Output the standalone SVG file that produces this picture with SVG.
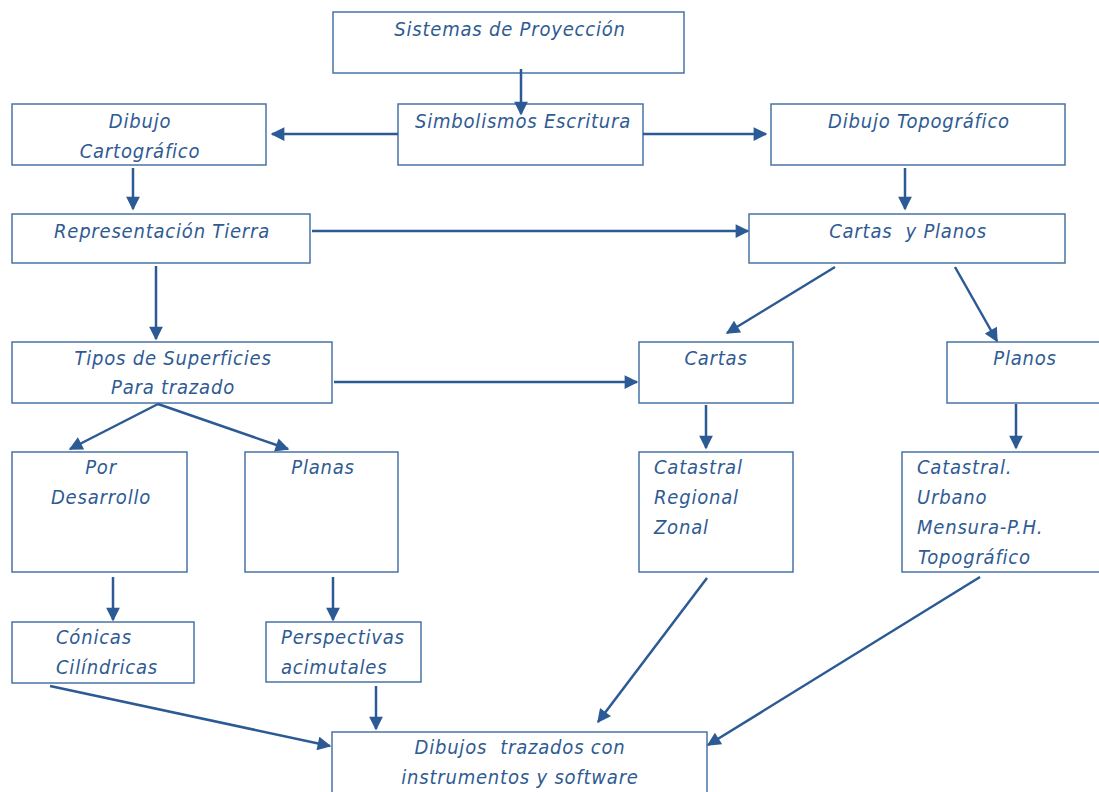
<svg xmlns="http://www.w3.org/2000/svg" width="1099" height="792" viewBox="0 0 1099 792">
<defs>
<style>
.box{fill:#fff;stroke:#4a73a6;stroke-width:1.5}
.t{font-family:"DejaVu Sans Condensed","DejaVu Sans",sans-serif;font-style:italic;font-size:20px;fill:#2f5b93;letter-spacing:0.8px}
.c{text-anchor:middle}
.e{stroke:#2c5a94;stroke-width:2.5;fill:none;marker-end:url(#ah)}
</style>
<marker id="ah" viewBox="0 0 10 10" refX="9" refY="5" markerWidth="6" markerHeight="5.5" markerUnits="strokeWidth" orient="auto">
<path d="M0,0 L10,5 L0,10 Z" fill="#2c5a94"/>
</marker>
</defs>
<rect width="1099" height="792" fill="#fff"/>
<g id="n1"><rect class="box" x="333" y="12" width="351" height="61"/><text class="t c" x="510" y="36">Sistemas de Proyección</text></g>
<g id="n3"><rect class="box" x="12" y="104" width="254" height="61"/><text class="t c" x="140" y="128">Dibujo</text><text class="t c" x="140" y="158">Cartográfico</text></g>
<g id="n4"><rect class="box" x="771" y="104" width="294" height="61"/><text class="t c" x="919" y="128">Dibujo Topográfico</text></g>
<g id="n5"><rect class="box" x="12" y="214" width="298" height="49"/><text class="t c" x="162" y="238">Representación Tierra</text></g>
<g id="n6"><rect class="box" x="749" y="214" width="316" height="49"/><text class="t c" x="908" y="238" xml:space="preserve">Cartas  y Planos</text></g>
<g id="n7"><rect class="box" x="12" y="342" width="320" height="61"/><text class="t c" x="173" y="365">Tipos de Superficies</text><text class="t c" x="173" y="394">Para trazado</text></g>
<g id="n8"><rect class="box" x="639" y="342" width="154" height="61"/><text class="t c" x="716" y="365">Cartas</text></g>
<g id="n9"><rect class="box" x="947" y="342" width="160" height="61"/><text class="t c" x="1025" y="365">Planos</text></g>
<g id="n10"><rect class="box" x="12" y="452" width="175" height="120"/><text class="t c" x="101" y="474">Por</text><text class="t c" x="101" y="504">Desarrollo</text></g>
<g id="n11"><rect class="box" x="245" y="452" width="153" height="120"/><text class="t c" x="323" y="474">Planas</text></g>
<g id="n12"><rect class="box" x="639" y="452" width="154" height="120"/><text class="t" x="654" y="474">Catastral</text><text class="t" x="654" y="504">Regional</text><text class="t" x="654" y="534">Zonal</text></g>
<g id="n13"><rect class="box" x="902" y="452" width="205" height="120"/><text class="t" x="917" y="474">Catastral.</text><text class="t" x="917" y="504">Urbano</text><text class="t" x="917" y="534">Mensura-P.H.</text><text class="t" x="918" y="564">Topográfico</text></g>
<g id="n14"><rect class="box" x="12" y="622" width="182" height="61"/><text class="t" x="56" y="644">Cónicas</text><text class="t" x="56" y="674">Cilíndricas</text></g>
<g id="n15"><rect class="box" x="266" y="622" width="155" height="60"/><text class="t" x="281" y="644">Perspectivas</text><text class="t" x="281" y="674">acimutales</text></g>
<g id="n16"><rect class="box" x="332" y="732" width="375" height="70"/><text class="t c" x="520" y="754" xml:space="preserve">Dibujos  trazados con</text><text class="t c" x="520" y="784">instrumentos y software</text></g>
<g id="n2"><rect class="box" x="398" y="104" width="245" height="61"/><text class="t c" x="523" y="128">Simbolismos Escritura</text></g>
<g id="connectors">
<line class="e" x1="521" y1="69" x2="521" y2="114"/>
<line class="e" x1="398" y1="134" x2="272" y2="134"/>
<line class="e" x1="643" y1="134" x2="766" y2="134"/>
<line class="e" x1="133" y1="168" x2="133" y2="209"/>
<line class="e" x1="905" y1="168" x2="905" y2="209"/>
<line class="e" x1="312" y1="231" x2="748" y2="231"/>
<line class="e" x1="156" y1="266" x2="156" y2="339"/>
<line class="e" x1="835" y1="267" x2="727" y2="333"/>
<line class="e" x1="955" y1="267" x2="997" y2="341"/>
<line class="e" x1="334" y1="382" x2="637" y2="382"/>
<line class="e" x1="158" y1="404" x2="70" y2="449"/>
<line class="e" x1="158" y1="404" x2="288" y2="449"/>
<line class="e" x1="706" y1="405" x2="706" y2="448"/>
<line class="e" x1="1016" y1="404" x2="1016" y2="448"/>
<line class="e" x1="113" y1="577" x2="113" y2="620"/>
<line class="e" x1="333" y1="577" x2="333" y2="620"/>
<line class="e" x1="50" y1="686" x2="330" y2="746"/>
<line class="e" x1="376" y1="686" x2="376" y2="729"/>
<line class="e" x1="707" y1="578" x2="598" y2="722"/>
<line class="e" x1="980" y1="577" x2="708" y2="745"/>
</g>
</svg>
